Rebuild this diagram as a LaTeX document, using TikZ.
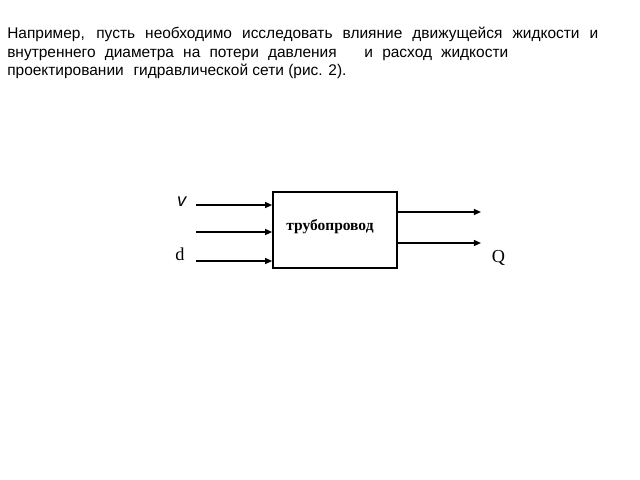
\documentclass[tikz,border=0pt]{standalone}
\usepackage{fontspec}
\setmainfont{Liberation Sans}
\newfontfamily\rmserif{Liberation Serif}
\usetikzlibrary{arrows.meta,positioning}
\tikzset{
	sig/.style={line width=1.1pt,-{Triangle[length=1.8mm,width=1.5mm]}},
	para/.style={anchor=base west,inner sep=0pt,font=\fontsize{11}{13}\selectfont},
}

\begin{document}
\begin{tikzpicture}[x=0.025cm,y=-0.025cm]
	\useasboundingbox (0,0) rectangle (640,480);
	% text above the picture
	\node[para] (l1) at (7,38) {\makebox[591\dimexpr0.025cm\relax][s]{Например, пусть необходимо исследовать влияние движущейся жидкости и}};
	\node[para] (l2) at (7,57) {\makebox[501\dimexpr0.025cm\relax][s]{внутреннего диаметра на потери давления\hspace{1.2em} и расход жидкости}};
	\node[para] (l3) at (7,75) {проектировании\hspace{0.35em} гидравлической сети (рис. 2).};

	% block
	\node[draw,line width=1.1pt,minimum width=3.1cm,minimum height=1.9cm,inner sep=0pt] (pipe) at (335,230) {};
	\node[font=\rmserif\bfseries\fontsize{11}{13}\selectfont] (name) at (330,227) {трубопровод};

	\coordinate (in1) at (196,205);
	\coordinate (in2) at (196,232);
	\coordinate (in3) at (196,261);
	\coordinate (out1) at (481,212);
	\coordinate (out2) at (481,243);

	\draw[sig] (in1) -- (in1 -| pipe.west);
	\draw[sig] (in2) -- (in2 -| pipe.west);
	\draw[sig] (in3) -- (in3 -| pipe.west);
	\draw[sig] (out1 -| pipe.east) -- (out1);
	\draw[sig] (out2 -| pipe.east) -- (out2);

	\node[font=\itshape\fontsize{13}{15}\selectfont,left=0.12cm of in1,yshift=0.08cm] (v) {v};
	\node[font=\rmserif\fontsize{13}{15}\selectfont,below=0.28cm of in2.west,xshift=-0.4cm] (d) {d};
	\node[font=\rmserif\fontsize{13}{15}\selectfont,below right=0.05cm and 0.15cm of out2] (q) {Q};
\end{tikzpicture}
\end{document}
